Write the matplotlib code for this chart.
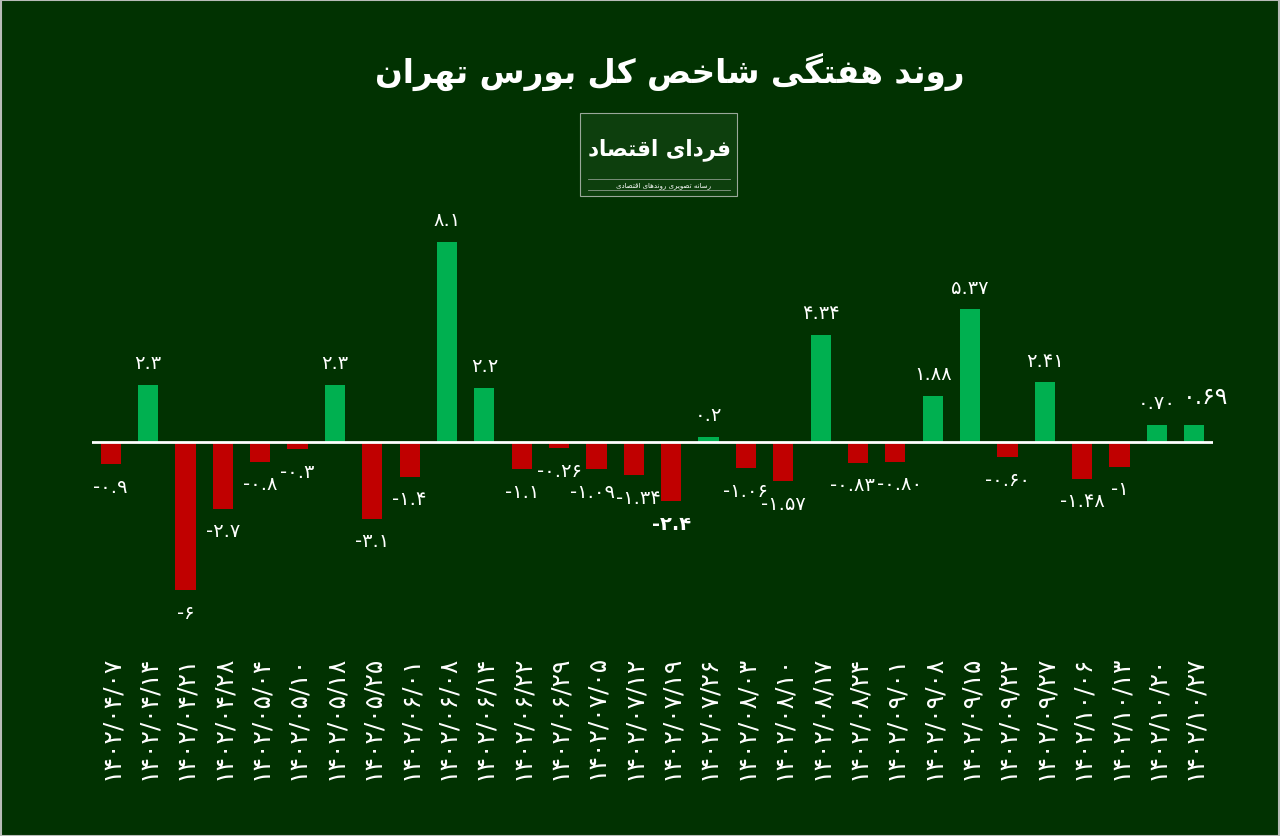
import matplotlib
matplotlib.use("Agg")
import matplotlib.pyplot as plt
from matplotlib.patches import Rectangle
from matplotlib.lines import Line2D

# ---------------- data ----------------
dates = ["۱۴۰۲/۰۴/۰۷", "۱۴۰۲/۰۴/۱۴", "۱۴۰۲/۰۴/۲۱", "۱۴۰۲/۰۴/۲۸", "۱۴۰۲/۰۵/۰۴",
         "۱۴۰۲/۰۵/۱۰", "۱۴۰۲/۰۵/۱۸", "۱۴۰۲/۰۵/۲۵", "۱۴۰۲/۰۶/۰۱", "۱۴۰۲/۰۶/۰۸",
         "۱۴۰۲/۰۶/۱۴", "۱۴۰۲/۰۶/۲۲", "۱۴۰۲/۰۶/۲۹", "۱۴۰۲/۰۷/۰۵", "۱۴۰۲/۰۷/۱۲",
         "۱۴۰۲/۰۷/۱۹", "۱۴۰۲/۰۷/۲۶", "۱۴۰۲/۰۸/۰۳", "۱۴۰۲/۰۸/۱۰", "۱۴۰۲/۰۸/۱۷",
         "۱۴۰۲/۰۸/۲۴", "۱۴۰۲/۰۹/۰۱", "۱۴۰۲/۰۹/۰۸", "۱۴۰۲/۰۹/۱۵", "۱۴۰۲/۰۹/۲۲",
         "۱۴۰۲/۰۹/۲۷", "۱۴۰۲/۱۰/۰۶", "۱۴۰۲/۱۰/۱۳", "۱۴۰۲/۱۰/۲۰", "۱۴۰۲/۱۰/۲۷"]
values = [-0.9, 2.3, -6, -2.7, -0.8, -0.3, 2.3, -3.1, -1.4, 8.1,
          2.2, -1.1, -0.26, -1.09, -1.34, -2.4, 0.2, -1.06, -1.57, 4.34,
          -0.83, -0.80, 1.88, 5.37, -0.60, 2.41, -1.48, -1, 0.70, 0.69]
value_labels = ["-۰.۹", "۲.۳", "-۶", "-۲.۷", "-۰.۸", "-۰.۳", "۲.۳", "-۳.۱", "-۱.۴", "۸.۱",
                "۲.۲", "-۱.۱", "-۰.۲۶", "-۱.۰۹", "-۱.۳۴", "-۲.۴", "۰.۲", "-۱.۰۶", "-۱.۵۷", "۴.۳۴",
                "-۰.۸۳", "-۰.۸۰", "۱.۸۸", "۵.۳۷", "-۰.۶۰", "۲.۴۱", "-۱.۴۸", "-۱", "۰.۷۰", "۰.۶۹"]
title_text = "روند هفتگی شاخص کل بورس تهران"
logo_text = "فردای اقتصاد"
logo_sub = "رسانه تصویری روندهای اقتصادی"

# ---------------- minimal Persian shaping ----------------
FORMS = {
    "ا": (0xFE8D, 0xFE8E, None, None),
    "ب": (0xFE8F, 0xFE90, 0xFE91, 0xFE92),
    "ت": (0xFE95, 0xFE96, 0xFE97, 0xFE98),
    "خ": (0xFEA5, 0xFEA6, 0xFEA7, 0xFEA8),
    "د": (0xFEA9, 0xFEAA, None, None),
    "ر": (0xFEAD, 0xFEAE, None, None),
    "س": (0xFEB1, 0xFEB2, 0xFEB3, 0xFEB4),
    "ش": (0xFEB5, 0xFEB6, 0xFEB7, 0xFEB8),
    "ص": (0xFEB9, 0xFEBA, 0xFEBB, 0xFEBC),
    "ف": (0xFED1, 0xFED2, 0xFED3, 0xFED4),
    "ق": (0xFED5, 0xFED6, 0xFED7, 0xFED8),
    "ل": (0xFEDD, 0xFEDE, 0xFEDF, 0xFEE0),
    "ن": (0xFEE5, 0xFEE6, 0xFEE7, 0xFEE8),
    "ه": (0xFEE9, 0xFEEA, 0xFEEB, 0xFEEC),
    "و": (0xFEED, 0xFEEE, None, None),
    "ک": (0xFB8E, 0xFB8F, 0xFB90, 0xFB91),
    "ك": (0xFB8E, 0xFB8F, 0xFB90, 0xFB91),
    "گ": (0xFB92, 0xFB93, 0xFB94, 0xFB95),
    "ی": (0xFBFC, 0xFBFD, 0xFBFE, 0xFBFF),
    "ي": (0xFBFC, 0xFBFD, 0xFBFE, 0xFBFF),
}


def shape(text):
    out = []
    n = len(text)
    for i, ch in enumerate(text):
        if ch not in FORMS:
            out.append(ch)
            continue
        prev = text[i - 1] if i > 0 else None
        nxt = text[i + 1] if i < n - 1 else None
        dual = FORMS[ch][2] is not None
        cp = prev in FORMS and FORMS[prev][2] is not None
        cn = dual and nxt in FORMS
        iso, fin, ini, med = FORMS[ch]
        if cp and cn:
            code = med
        elif cp:
            code = fin
        elif cn:
            code = ini
        else:
            code = iso
        out.append(chr(code))
    return "".join(out)[::-1]


# ---------------- styling ----------------
BG = "#013201"
GREEN = "#00B050"
RED = "#C00000"
FONT = ["DejaVu Sans"]
plt.rcParams["font.family"] = FONT

W, H = 1280, 837
fig = plt.figure(figsize=(W / 100, H / 100), dpi=100, facecolor=BG)

zero_px = 443.0
px_per_unit = 24.7
ax_top_px, ax_bot_px = 230.0, 640.0
ax_left_px, ax_right_px = 92.0, 1213.0
ax = fig.add_axes([ax_left_px / W, 1 - ax_bot_px / H,
                   (ax_right_px - ax_left_px) / W, (ax_bot_px - ax_top_px) / H])
ax.set_facecolor(BG)
ax.set_xlim(-0.5, len(values) - 0.5)
ax.set_ylim(-(ax_bot_px - zero_px) / px_per_unit, (zero_px - ax_top_px) / px_per_unit)
for s in ax.spines.values():
    s.set_visible(False)

x = list(range(len(values)))
colors = [GREEN if v >= 0 else RED for v in values]
ax.bar(x, values, width=0.54, color=colors, zorder=2)
ax.axhline(0, color="white", lw=2, zorder=3)

ax.set_yticks([])
ax.set_xticks(x)
ax.set_xticklabels(dates, rotation=90, fontsize=18, color="white", va="top")
ax.tick_params(axis="x", length=0, pad=11)

label_dx = {"-۱.۰۹": -3, "-۱.۳۴": 3, "-۰.۸۳": -4, "-۰.۸۰": 3, "۰.۶۹": 8}
for i, (v, lab) in enumerate(zip(values, value_labels)):
    fs = 14
    weight = "normal"
    dx = label_dx.get(lab, 0)
    dy = 16 if v >= 0 else -16
    if lab == "-۲.۴":
        weight = "bold"
    if lab == "۰.۶۹":
        fs = 17
        dy = 21
    ax.annotate(lab, (i, v), xytext=(dx, dy), textcoords="offset points",
                ha="center", va="center", color="white", fontsize=fs,
                fontweight=weight, zorder=4)

# ---------------- title ----------------
fig.text(670 / W, 1 - 72 / H, shape(title_text), ha="center", va="center",
         color="white", fontsize=23.5, fontweight="bold", family=FONT)

# ---------------- logo ----------------
logo = Rectangle((580 / W, 1 - 197 / H), 157 / W, 83 / H, transform=fig.transFigure,
                 facecolor="#0d3f0d", edgecolor="#9aa89a", lw=0.8)
fig.patches.append(logo)
fig.text(660 / W, 1 - 150 / H, shape(logo_text), ha="center", va="center",
         color="white", fontsize=15.5, fontweight="bold", family=FONT)
for yy in (180, 191):
    fig.lines.append(Line2D([588 / W, 730 / W], [1 - yy / H, 1 - yy / H],
                            transform=fig.transFigure, color="#8a9a8a", lw=0.6))
fig.text(663 / W, 1 - 185.5 / H, shape(logo_sub), ha="center", va="center",
         color="white", fontsize=5, family=FONT)

# ---------------- outer border ----------------
border = Rectangle((0.5 / W, 0.5 / H), 1 - 1.5 / W, 1 - 1.5 / H, transform=fig.transFigure,
                   facecolor="none", edgecolor="#b8bcb8", lw=1.5)
fig.patches.append(border)

fig.savefig("out.png", dpi=100, facecolor=BG)
